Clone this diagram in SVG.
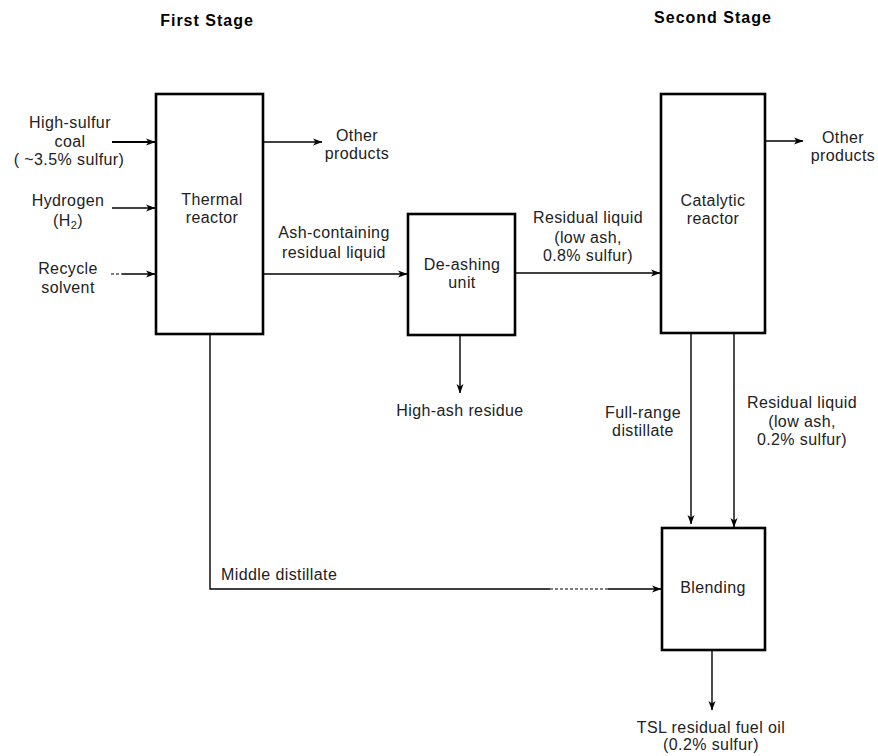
<svg xmlns="http://www.w3.org/2000/svg" width="878" height="756" viewBox="0 0 878 756">
<defs>
<style>
text{font-family:"Liberation Sans",Arial,sans-serif;font-size:16px;fill:#222;text-anchor:middle;letter-spacing:0.4px}
.title{font-weight:bold;letter-spacing:1px;fill:#000}
.box{fill:#fff;stroke:#000;stroke-width:2.6}
.conn{fill:none;stroke:#000;stroke-width:1.4}
.dot{fill:none;stroke:#000;stroke-width:1.2;stroke-dasharray:3 2}
.start{text-anchor:start}
</style>
<marker id="ah" markerWidth="10" markerHeight="8" refX="9" refY="4" orient="auto" markerUnits="userSpaceOnUse">
<path d="M0,0.5 L9.5,4 L0,7.5 L2.5,4 Z" fill="#000"/>
</marker>
</defs>
<rect width="878" height="756" fill="#fff"/>

<text class="title" x="207" y="26">First Stage</text>
<text class="title" x="713" y="23">Second Stage</text>

<g id="connectors">
<line class="conn" x1="112" y1="142" x2="155" y2="142" marker-end="url(#ah)" style="stroke-width:2"/>
<line class="conn" x1="112" y1="208" x2="155" y2="208" marker-end="url(#ah)"/>
<line class="dot" x1="111" y1="274" x2="122" y2="274"/>
<line class="conn" x1="122" y1="274" x2="155" y2="274" marker-end="url(#ah)"/>
<line class="conn" x1="263" y1="142" x2="322" y2="142" marker-end="url(#ah)"/>
<line class="conn" x1="263" y1="274" x2="407" y2="274" marker-end="url(#ah)"/>
<line class="conn" x1="515" y1="273" x2="660" y2="273" marker-end="url(#ah)"/>
<line class="conn" x1="460" y1="335" x2="460" y2="393" marker-end="url(#ah)"/>
<line class="conn" x1="765" y1="141" x2="803" y2="141" marker-end="url(#ah)"/>
<line class="conn" x1="691" y1="333" x2="691" y2="524" marker-end="url(#ah)"/>
<line class="conn" x1="734" y1="333" x2="734" y2="527" marker-end="url(#ah)"/>
<polyline class="conn" points="210,334 210,589 550,589"/>
<line class="dot" x1="550" y1="589" x2="608" y2="589"/>
<line class="conn" x1="608" y1="589" x2="661" y2="589" marker-end="url(#ah)"/>
<line class="conn" x1="712" y1="650" x2="712" y2="710" marker-end="url(#ah)"/>
</g>

<g id="thermal-reactor">
<rect class="box" x="156" y="94" width="107" height="240"/>
<text x="212" y="205">Thermal</text>
<text x="212" y="223">reactor</text>
</g>

<g id="deashing-unit">
<rect class="box" x="408" y="214" width="107" height="121"/>
<text x="462" y="270">De-ashing</text>
<text x="462" y="288">unit</text>
</g>

<g id="catalytic-reactor">
<rect class="box" x="661" y="94" width="104" height="239"/>
<text x="713" y="206">Catalytic</text>
<text x="713" y="224">reactor</text>
</g>

<g id="blending">
<rect class="box" x="662" y="528" width="103" height="122"/>
<text x="713" y="593">Blending</text>
</g>

<g id="labels">
<text x="70" y="128">High-sulfur</text>
<text x="70" y="147">coal</text>
<text x="69" y="165">( ~3.5% sulfur)</text>
<text x="68" y="206">Hydrogen</text>
<text x="68" y="226">(H<tspan font-size="11" dy="3">2</tspan><tspan dy="-3">)</tspan></text>
<text x="68" y="274">Recycle</text>
<text x="68" y="293">solvent</text>
<text x="357" y="141">Other</text>
<text x="357" y="159">products</text>
<text x="334" y="238">Ash-containing</text>
<text x="334" y="258">residual liquid</text>
<text x="588" y="223">Residual liquid</text>
<text x="588" y="243">(low ash,</text>
<text x="588" y="261">0.8% sulfur)</text>
<text x="843" y="143">Other</text>
<text x="843" y="161">products</text>
<text x="460" y="416">High-ash residue</text>
<text x="643" y="418">Full-range</text>
<text x="643" y="436">distillate</text>
<text x="802" y="408">Residual liquid</text>
<text x="802" y="427">(low ash,</text>
<text x="802" y="445">0.2% sulfur)</text>
<text class="start" x="221" y="580">Middle distillate</text>
<text x="711" y="733">TSL residual fuel oil</text>
<text x="711" y="750">(0.2% sulfur)</text>
</g>
</svg>
